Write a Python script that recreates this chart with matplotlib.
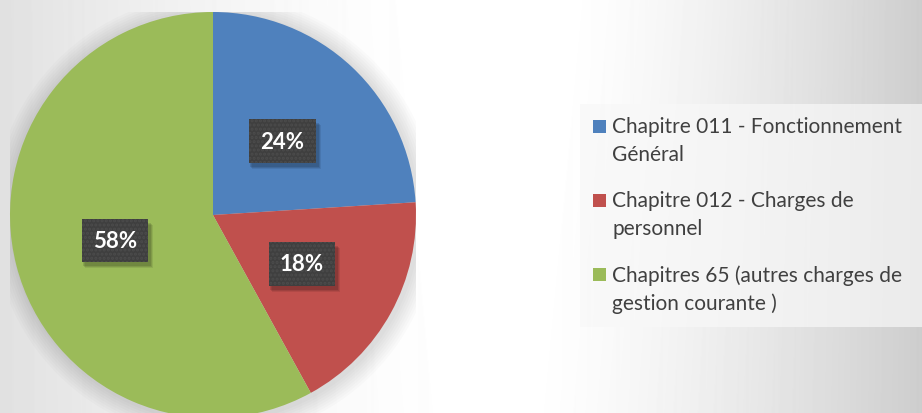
import numpy as np
import matplotlib
matplotlib.use("Agg")
import matplotlib.pyplot as plt
from matplotlib.patches import Rectangle
from matplotlib.transforms import IdentityTransform

plt.rcParams["hatch.linewidth"] = 1.5

# data
categories = ["Chapitre 011 - Fonctionnement\nGénéral",
              "Chapitre 012 - Charges de\npersonnel",
              "Chapitres 65 (autres charges de\ngestion courante )"]
values = [24, 18, 58]
colors = ["#4F81BD", "#C0504D", "#9BBB59"]

W, H = 922, 414
fig = plt.figure(figsize=(W / 100, H / 100), dpi=100)

# background: light grey gradient, white band in the middle
bg = fig.add_axes([0, 0, 1, 1], zorder=0)
xx, yy = np.meshgrid(np.arange(W), np.arange(H))
xl = 440 + yy * 0.1
xr = 560 - yy * 0.1
left = np.clip((xl - xx) / xl, 0, 1) ** 1.5 * 30
right = np.clip((xx - xr) / (W - xr), 0, 1) ** 1.4 * 50
shade = 255 - left - right
bg.imshow(shade, cmap="gray", vmin=0, vmax=255, aspect="auto", interpolation="bilinear")
bg.axis("off")

# pie axes, with a soft shadow round the pie
cx, cy, r = 213, 216, 203
ax = fig.add_axes([(cx - r) / W, (H - cy - r) / H, 2 * r / W, 2 * r / H], zorder=1)
ax.set_facecolor("none")
for k in range(8):
    circ = plt.Circle((0.01, -0.01), 1 + 0.012 * (k + 1), color="black", alpha=0.016, lw=0)
    ax.add_patch(circ)

wedges, texts, autotexts = ax.pie(values, colors=colors, startangle=90, counterclock=False,
                                  autopct="%1.0f%%", pctdistance=0.5,
                                  wedgeprops=dict(linewidth=0))
for t in autotexts:
    t.set_color("white")
    t.set_fontsize(16)
    t.set_fontweight("bold")
    t.set_fontfamily("Lato")
    t.set_zorder(5)
    t.set_bbox(dict(boxstyle="square,pad=0.5", fc="#3F3F3F", ec="#4C4C4C", lw=0, hatch="...."))
ax.set_xlim(-1, 1)
ax.set_ylim(-1, 1)
ax.set_aspect("equal")
ax.axis("off")

# drop shadow under the label boxes
fig.canvas.draw()
for t in autotexts:
    ext = t.get_bbox_patch().get_window_extent()
    for k, a in enumerate([0.12, 0.1, 0.08]):
        sh = Rectangle((ext.x0 + 1 + k, ext.y0 - 4 - k), ext.width + 2, ext.height,
                       transform=IdentityTransform(), fc="black", ec="none", alpha=a,
                       zorder=4, clip_on=False)
        ax.add_artist(sh)

# legend panel
fig.patches.append(Rectangle((580 / W, (H - 328) / H), (W - 580) / W, 223 / H,
                             transform=fig.transFigure, fc="#F8F8F8", ec="none",
                             alpha=0.7, zorder=2))
ys = [121, 195, 269]
for lab, col, y in zip(categories, colors, ys):
    fig.patches.append(Rectangle((593 / W, (H - y - 13) / H), 13 / W, 13 / H,
                                 transform=fig.transFigure, fc=col, ec="none", zorder=3))
    fig.text(612 / W, (H - y + 4) / H, lab, ha="left", va="top", fontsize=15,
             family="Lato", color="#404040", linespacing=1.5, zorder=3)

fig.savefig("out.png", dpi=100)
